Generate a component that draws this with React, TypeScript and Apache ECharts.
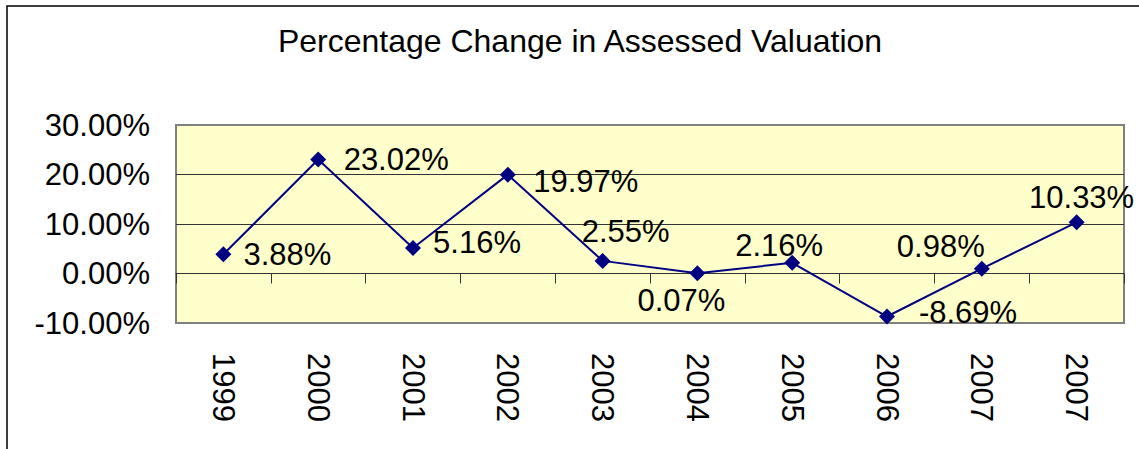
import React, { useEffect, useRef } from "react";
import * as echarts from "echarts";

const title = "Percentage Change in Assessed Valuation";
const categories = ["1999", "2000", "2001", "2002", "2003", "2004", "2005", "2006", "2007", "2007"];
const values = [3.88, 23.02, 5.16, 19.97, 2.55, 0.07, 2.16, -8.69, 0.98, 10.33];
const yMin = -10;
const yMax = 30;
const yStep = 10;

// label offsets (style only), relative to each marker's centre
const labelOffsets: [number, number][] = [
  [64, 0], [78, 0], [64, -5], [78, 7], [23, -29],
  [-16, 27], [-13, -17], [81, -4], [-41, -22], [5, -25],
];

const FONT = "'Liberation Sans', Arial, sans-serif";

export default function App() {
  const ref = useRef<HTMLDivElement>(null);
  useEffect(() => {
    if (!ref.current) return;
    const chart = echarts.init(ref.current, null, { renderer: "svg" });
    const idx = categories.map((_, i) => String(i));
    chart.setOption({
      animation: false,
      backgroundColor: "#ffffff",
      title: {
        text: title,
        left: 575,
        top: 20,
        textAlign: "center",
        textStyle: { fontSize: 32, fontWeight: "normal", color: "#000", fontFamily: FONT },
      },
      graphic: [
        {
          type: "rect",
          shape: { x: 7, y: 6, width: 1300, height: 1000 },
          style: { fill: "none", stroke: "#000", lineWidth: 1.5 },
          silent: true,
        },
      ],
      grid: {
        left: 176,
        top: 125,
        right: 15,
        bottom: 126,
        show: true,
        backgroundColor: "#FFFFCC",
        borderColor: "#808080",
        borderWidth: 2,
      },
      xAxis: [
        {
          type: "category",
          data: idx,
          boundaryGap: true,
          axisLine: { show: true, onZero: true, lineStyle: { color: "#333", width: 1 } },
          axisTick: { show: true, length: 10, inside: false, lineStyle: { color: "#333", width: 1 } },
          axisLabel: { show: false },
          splitLine: { show: false },
        },
        {
          type: "category",
          data: idx,
          position: "bottom",
          boundaryGap: true,
          axisLine: { show: false, onZero: false },
          axisTick: { show: false },
          axisLabel: {
            show: true,
            rotate: -90,
            margin: 30,
            fontSize: 31,
            color: "#000",
            fontFamily: FONT,
            interval: 0,
            formatter: (v: string) => categories[Number(v)],
          },
        },
      ],
      yAxis: {
        type: "value",
        min: yMin,
        max: yMax,
        interval: yStep,
        axisLine: { show: false },
        axisTick: { show: false },
        axisLabel: {
          margin: 26,
          fontSize: 31,
          color: "#000",
          fontFamily: FONT,
          formatter: (v: number) => v.toFixed(2) + "%",
        },
        splitLine: {
          show: true,
          lineStyle: {
            color: ["transparent", "#333", "#333", "#333", "transparent"],
            width: 1,
          },
        },
      },
      series: [
        {
          type: "line",
          xAxisIndex: 0,
          data: values.map((v, i) => ({
            value: v,
            label: {
              show: true,
              position: "inside",
              offset: labelOffsets[i],
              align: "center",
              verticalAlign: "middle",
            },
          })),
          symbol: "diamond",
          symbolSize: 16,
          itemStyle: { color: "#000080" },
          lineStyle: { color: "#000080", width: 2 },
          label: {
            show: true,
            fontSize: 31,
            color: "#000",
            fontFamily: FONT,
            formatter: (p: any) => Number(p.value).toFixed(2) + "%",
          },
        },
      ],
    });
    return () => chart.dispose();
  }, []);
  return (
    <div
      ref={ref}
      style={{ position: "absolute", left: 0, top: 0, width: 1139, height: 449 }}
    />
  );
}
